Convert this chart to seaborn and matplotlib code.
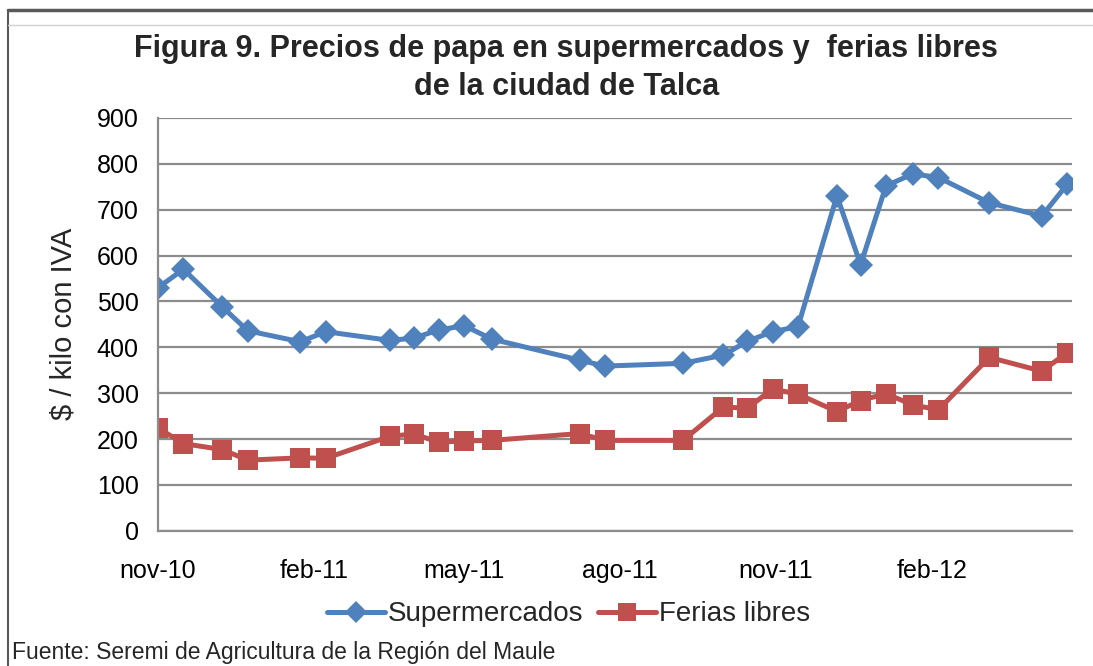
import matplotlib
matplotlib.use("Agg")
import matplotlib.pyplot as plt
from matplotlib.lines import Line2D
import seaborn as sns
import pandas as pd

# ---- data ----
fechas = ["2010-11-01", "2010-11-16", "2010-12-09", "2010-12-24", "2011-01-24",
          "2011-02-08", "2011-03-18", "2011-04-01", "2011-04-16", "2011-05-01",
          "2011-05-17", "2011-07-08", "2011-07-23", "2011-09-07", "2011-10-01",
          "2011-10-15", "2011-10-30", "2011-11-14", "2011-12-07", "2011-12-21",
          "2012-01-05", "2012-01-21", "2012-02-05", "2012-03-06", "2012-04-06",
          "2012-04-21"]
supermercados = [530, 570, 488, 436, 412, 434, 415, 420, 438, 447,
                 418, 372, 359, 365, 383, 413, 434, 445, 730, 580,
                 752, 778, 770, 715, 686, 755]
ferias_libres = [224, 190, 177, 154, 159, 158, 206, 211, 193, 196,
                 197, 212, 197, 197, 270, 267, 309, 298, 260, 284,
                 299, 274, 264, 378, 348, 388]
tick_fechas = ["2010-11-01", "2011-02-01", "2011-05-01", "2011-08-01",
               "2011-11-01", "2012-02-01"]
tick_labels = ["nov-10", "feb-11", "may-11", "ago-11", "nov-11", "feb-12"]
y_ticks = [0, 100, 200, 300, 400, 500, 600, 700, 800, 900]

df = pd.DataFrame({"fecha": pd.to_datetime(fechas),
                   "Supermercados": supermercados,
                   "Ferias libres": ferias_libres})

sns.set_theme(style="white")
plt.rcParams["font.family"] = ["Liberation Sans", "DejaVu Sans"]

fig = plt.figure(figsize=(10.93, 6.66), dpi=100)
ax = fig.add_axes([0.1446, 0.203, 0.8364, 0.620])

blue = "#4F81BD"
red = "#C0504D"
sns.lineplot(data=df, x="fecha", y="Supermercados", ax=ax, color=blue,
             linewidth=3.6, marker="D", markersize=12, markeredgewidth=0,
             label="Supermercados")
sns.lineplot(data=df, x="fecha", y="Ferias libres", ax=ax, color=red,
             linewidth=3.6, marker="s", markersize=14, markeredgewidth=0,
             label="Ferias libres")

ax.set_ylim(0, 900)
ax.set_xlim(pd.Timestamp("2010-11-01"), pd.Timestamp("2012-04-24"))
ax.set_yticks(y_ticks)
ax.set_xticks(pd.to_datetime(tick_fechas))
ax.set_xticklabels(tick_labels)
ax.tick_params(axis="both", labelsize=18, colors="black", length=0)
ax.tick_params(axis="x", pad=20)
ax.tick_params(axis="y", pad=14)
ax.grid(axis="y", color="#8C8C8C", linewidth=1.6)
ax.grid(axis="x", visible=False)
for s in ["top", "right"]:
    ax.spines[s].set_visible(False)
ax.spines["left"].set_color("#8C8C8C")
ax.spines["left"].set_linewidth(1.6)
ax.spines["bottom"].set_color("#8C8C8C")
ax.spines["bottom"].set_linewidth(1.6)
ax.set_axisbelow(True)

ax.set_xlabel("")
ax.set_ylabel("$ / kilo con IVA", fontsize=21, labelpad=14)

fig.text(0.518, 0.898, "Figura 9. Precios de papa en supermercados y  ferias libres\nde la ciudad de Talca",
         ha="center", va="center", fontsize=22, fontweight="bold", linespacing=1.35)

leg = ax.legend(loc="upper center", bbox_to_anchor=(0.449, -0.11), ncol=2,
                frameon=False, fontsize=20, handlelength=2.1, handletextpad=0.1,
                columnspacing=0.5, markerscale=0.9)

fig.text(0.011, 0.021, "Fuente: Seremi de Agricultura de la Región del Maule",
         fontsize=16.5, ha="left", va="center")

# figure frame decoration
fig.add_artist(Line2D([0.007, 1.0], [0.985, 0.985], color="#595959", linewidth=2.5,
                      transform=fig.transFigure))
fig.add_artist(Line2D([0.007, 0.007], [0.0, 0.985], color="#595959", linewidth=1.5,
                      transform=fig.transFigure))
fig.add_artist(Line2D([0.007, 1.0], [0.962, 0.962], color="#D0D0D0", linewidth=1.0,
                      transform=fig.transFigure))

fig.savefig("out.png", dpi=100)
